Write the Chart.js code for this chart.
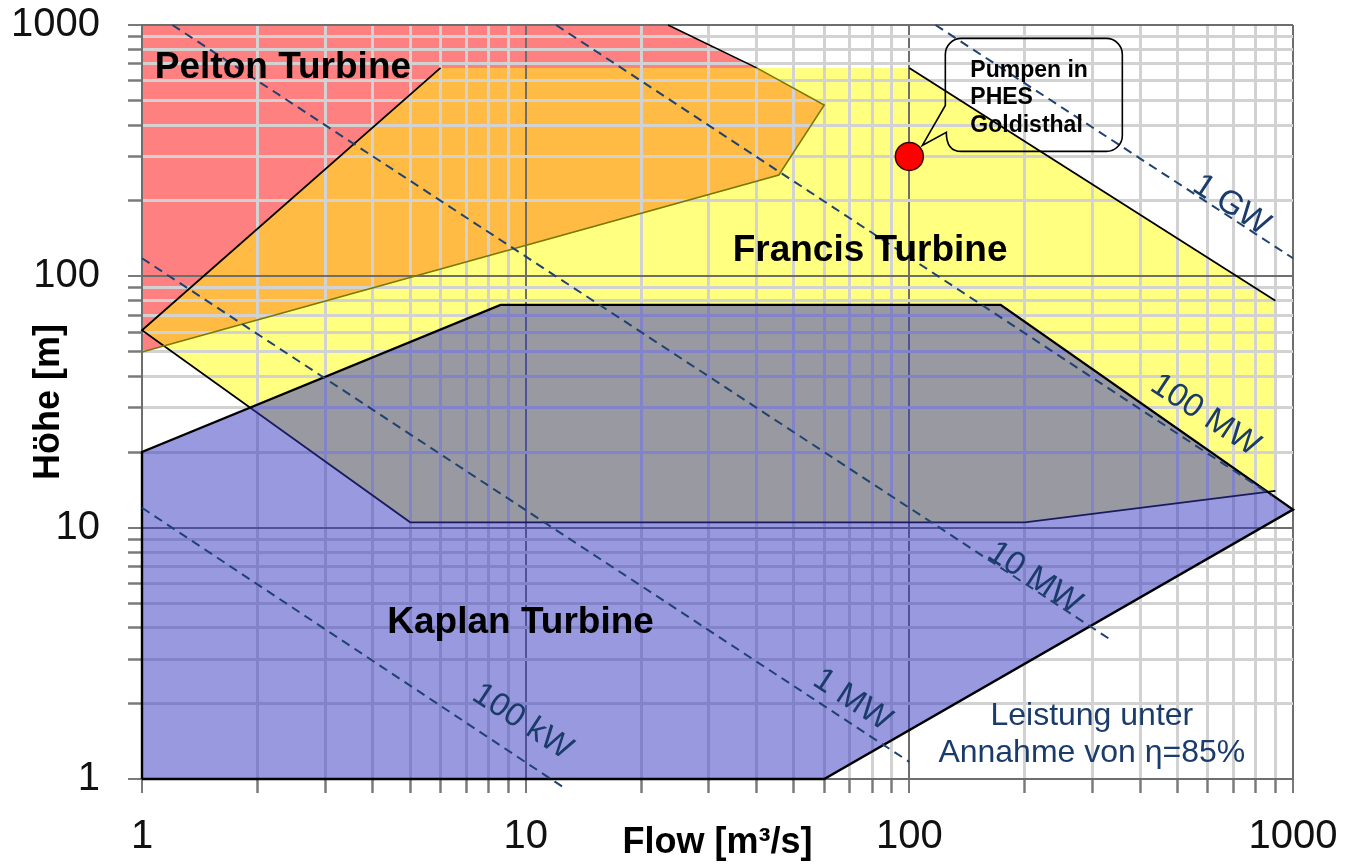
<!DOCTYPE html>
<html>
<head>
<meta charset="utf-8">
<title>Turbinen-Einsatzbereiche</title>
<script src="https://cdn.jsdelivr.net/npm/chart.js@4.4.1/dist/chart.umd.min.js"></script>
<style>
  html, body { margin: 0; padding: 0; background: #ffffff; }
  #wrap { width: 1366px; height: 865px; position: relative; }
</style>
</head>
<body>
<div id="wrap"><canvas id="chart"></canvas></div>
<script>
// Operating ranges of water turbines: flow Q [m³/s] against head H [m]

// Pelton range
const peltonQ = [1, 23.5, 40, 60, 45.7, 1];
const peltonH = [1000, 1000, 675, 480, 253, 50];
// Pelton / Francis overlap
const overlapQ = [1, 6, 40, 60, 45.7, 1.14];
const overlapH = [61, 675, 675, 480, 253, 52.9];
// Francis range
const francisQ = [1, 6, 100, 900, 900, 200, 5];
const francisH = [61, 675, 675, 80, 14, 10.5, 10.5];
// Kaplan range
const kaplanQ = [1, 1, 8.6, 173, 1000, 60, 1];
const kaplanH = [1, 20, 77, 77, 11.8, 1, 1];

// Drawn boundary lines
const peltonEdgeQ = [23.5, 40];
const peltonEdgeH = [1000, 675];
const overlapEdgeQ = [40, 60, 45.7, 1];
const overlapEdgeH = [675, 480, 253, 50];
const francisLeftQ = [6, 1, 5, 200, 900];
const francisLeftH = [675, 61, 10.5, 10.5, 14];
const francisRightQ = [100, 900];
const francisRightH = [675, 80];

// Lines of constant power (eta = 85 %)
const powerNames = ['100 kW', '1 MW', '10 MW', '100 MW', '1 GW'];
const powerStartQ = [1, 1, 1.2, 12, 117];
const powerStartH = [12, 118, 1000, 1000, 1000];
const powerEndQ = [12.5, 100, 333, 881, 1000];
const powerEndH = [0.93, 1.17, 3.6, 13.4, 118];

// Pump of the Goldisthal pumped-storage plant
const pumpQ = [100];
const pumpH = [300];
const pumpNote = ['Pumpen in', 'PHES', 'Goldisthal'];

// Axis ticks
const tickValues = [1, 2, 3, 4, 5, 6, 7, 8, 9, 10, 20, 30, 40, 50, 60, 70, 80, 90,
                    100, 200, 300, 400, 500, 600, 700, 800, 900, 1000];
const tickLabels = ['1', '10', '100', '1000'];

// Text placement (data coordinates)
const turbineNames = ['Pelton Turbine', 'Francis Turbine', 'Kaplan Turbine'];
const turbineAt = [{ q: 1.08, h: 675, align: 'left' }, { q: 79, h: 126, align: 'center' }, { q: 9.7, h: 4.2, align: 'center' }];
const powerLabelAt = [{ q: 9.8, h: 1.69 }, { q: 71, h: 2.06 }, { q: 212, h: 6.3 }, { q: 590, h: 28 }, { q: 690, h: 192 }];
const noteLines = ['Leistung unter', 'Annahme von η=85%'];
const noteAt = [{ q: 299, h: 1.78 }, { q: 299, h: 1.27 }];

const FONT = "'Liberation Sans', Arial, Helvetica, sans-serif";
const NAVY = '#1b3c6b';

const pts = (qs, hs) => qs.map((q, i) => ({ x: q, y: hs[i] }));
const isDecade = v => tickLabels.includes(String(v));

function area(label, qs, hs, color, order) {
  return { label, data: pts(qs, hs), showLine: true, fill: 'shape', backgroundColor: color,
           borderWidth: 0, pointRadius: 0, order };
}
function edge(label, qs, hs, color, width, order) {
  return { label, data: pts(qs, hs), showLine: true, fill: false, borderColor: color,
           borderWidth: width, pointRadius: 0, order, clip: false };
}

// lower "order" is painted later (on top)
const datasets = [
  area('Pelton', peltonQ, peltonH, '#ff8080', 90),
  area('Francis', francisQ, francisH, '#ffff80', 85),
  area('Pelton/Francis', overlapQ, overlapH, '#ffbb44', 80),
  edge('Pelton Rand', peltonEdgeQ, peltonEdgeH, '#000000', 1.6, 60),
  edge('Überlappung Rand', overlapEdgeQ, overlapEdgeH, '#7a7a00', 1.6, 60),
  edge('Francis Rand links', francisLeftQ, francisLeftH, '#000000', 1.8, 60),
  edge('Francis Rand rechts', francisRightQ, francisRightH, '#000000', 1.8, 60),
  area('Kaplan', kaplanQ, kaplanH, 'rgba(51,51,193,0.5)', 50),
  edge('Kaplan Rand', kaplanQ, kaplanH, '#000000', 2.4, 40)
];
powerNames.forEach((name, i) => {
  datasets.push({
    label: name,
    data: [{ x: powerStartQ[i], y: powerStartH[i] }, { x: powerEndQ[i], y: powerEndH[i] }],
    showLine: true, fill: false, borderColor: '#1f4270', borderWidth: 2, borderDash: [9, 6],
    pointRadius: 0, order: 30, clip: false
  });
});
datasets.push({
  label: 'Pumpe Goldisthal', data: pts(pumpQ, pumpH), showLine: false,
  pointRadius: 14, pointBackgroundColor: '#ff0000', pointBorderColor: '#3a0000',
  pointBorderWidth: 1.5, order: 10
});

// Grid is repainted over the Pelton/Francis fills, beneath the translucent Kaplan range
const gridOverFills = {
  id: 'gridOverFills',
  afterDatasetDraw(chart, args) {
    if (chart.data.datasets[args.index].label === 'Pelton/Francis') {
      chart.scales.x.drawGrid(chart.chartArea);
      chart.scales.y.drawGrid(chart.chartArea);
    }
  }
};

// Labels, power line captions and the callout for the pump
const annotations = {
  id: 'annotations',
  afterDatasetsDraw(chart) {
    const { ctx } = chart;
    const sx = chart.scales.x, sy = chart.scales.y;
    const px = q => sx.getPixelForValue(q);
    const py = h => sy.getPixelForValue(h);
    ctx.save();

    ctx.fillStyle = '#000000';
    ctx.textBaseline = 'middle';
    ctx.font = 'bold 37px ' + FONT;
    turbineNames.forEach((t, i) => {
      ctx.textAlign = turbineAt[i].align;
      ctx.fillText(t, px(turbineAt[i].q), py(turbineAt[i].h));
    });

    const ang = Math.atan2(py(1) - py(10), px(10) - px(1));
    ctx.fillStyle = NAVY;
    ctx.font = '33px ' + FONT;
    ctx.textAlign = 'center';
    powerNames.forEach((t, i) => {
      ctx.save();
      ctx.translate(px(powerLabelAt[i].q), py(powerLabelAt[i].h));
      ctx.rotate(ang);
      ctx.fillText(t, 0, 0);
      ctx.restore();
    });

    ctx.font = '32px ' + FONT;
    noteLines.forEach((t, i) => ctx.fillText(t, px(noteAt[i].q), py(noteAt[i].h)));

    // callout box with pointer to the pump
    const dx = px(pumpQ[0]), dy = py(pumpH[0]);
    const L = dx + 36, T = dy - 118, R = dx + 213, B = dy - 5, r = 16;
    ctx.beginPath();
    ctx.moveTo(L + r, T);
    ctx.lineTo(R - r, T);
    ctx.arcTo(R, T, R, T + r, r);
    ctx.lineTo(R, B - r);
    ctx.arcTo(R, B, R - r, B, r);
    ctx.lineTo(L + r, B);
    ctx.quadraticCurveTo(L + 1, B, L + 1, dy - 24);
    ctx.lineTo(dx + 13, dy - 11);
    ctx.lineTo(L, dy - 51);
    ctx.lineTo(L, T + r);
    ctx.arcTo(L, T, L + r, T, r);
    ctx.closePath();
    ctx.strokeStyle = '#000000';
    ctx.lineWidth = 1.6;
    ctx.stroke();

    ctx.fillStyle = '#000000';
    ctx.font = 'bold 23px ' + FONT;
    ctx.textAlign = 'left';
    const rows = [dy - 86, dy - 59, dy - 31];
    pumpNote.forEach((t, i) => ctx.fillText(t, dx + 61, rows[i]));

    ctx.restore();
  }
};

function logAxis(title, isX) {
  return {
    type: 'logarithmic',
    min: 1,
    max: 1000,
    afterBuildTicks: s => { s.ticks = tickValues.map(v => ({ value: v })); },
    afterFit: s => {
      if (isX) { s.height = 86; s.paddingLeft = 0; s.paddingRight = 0; }
      else { s.width = 142; s.paddingTop = 0; s.paddingBottom = 0; }
    },
    ticks: {
      autoSkip: false,
      maxRotation: 0,
      padding: isX ? 20 : 28,
      color: '#111111',
      font: { family: FONT, size: 40 },
      callback: v => (isDecade(v) ? String(v) : '')
    },
    grid: {
      color: c => (c.tick && isDecade(c.tick.value) ? '#6e6e6e' : '#d2d2d2'),
      lineWidth: c => (c.tick && isDecade(c.tick.value) ? 2 : 3),
      tickColor: '#7a7a7a',
      tickWidth: 2,
      tickLength: 14
    },
    border: { display: true, color: '#6e6e6e', width: 2 },
    title: {
      display: true,
      text: title,
      color: '#000000',
      font: { family: FONT, size: 36, weight: 'bold' },
      padding: isX ? { top: 0, bottom: 0 } : { top: 27, bottom: 0 }
    }
  };
}

new Chart(document.getElementById('chart'), {
  type: 'scatter',
  data: { datasets },
  options: {
    responsive: true,
    maintainAspectRatio: false,
    animation: false,
    events: [],
    layout: { padding: { top: 25, right: 73, bottom: 0, left: 0 } },
    scales: {
      x: logAxis('Flow [m³/s]', true),
      y: logAxis('Höhe [m]', false)
    },
    plugins: {
      legend: { display: false },
      tooltip: { enabled: false }
    }
  },
  plugins: [gridOverFills, annotations]
});
</script>
</body>
</html>
